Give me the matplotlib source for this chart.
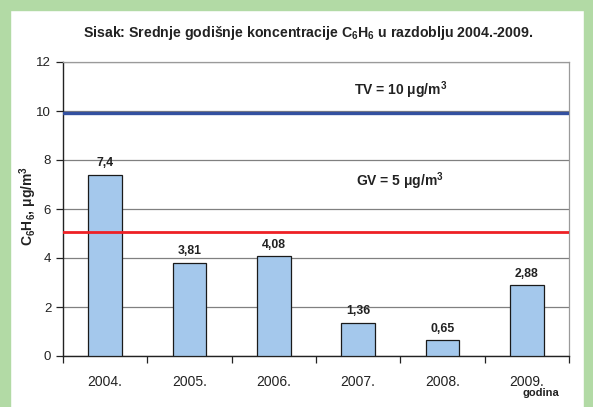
import matplotlib
matplotlib.use("Agg")
import matplotlib.pyplot as plt
from matplotlib.patches import Rectangle

plt.rcParams['font.family'] = ['Liberation Sans', 'DejaVu Sans']
plt.rcParams['mathtext.fontset'] = 'custom'
plt.rcParams['mathtext.rm'] = 'Liberation Sans'
plt.rcParams['mathtext.bf'] = 'Liberation Sans:bold'
plt.rcParams['mathtext.it'] = 'Liberation Sans:italic'

years = ["2004.", "2005.", "2006.", "2007.", "2008.", "2009."]
values = [7.4, 3.81, 4.08, 1.36, 0.65, 2.88]
value_labels = ["7,4", "3,81", "4,08", "1,36", "0,65", "2,88"]
tv_value = 9.93
gv_value = 5.05

fig = plt.figure(figsize=(5.93, 4.07), dpi=100)
fig.patch.set_facecolor('white')
green = '#b2daa5'
fig.patches.append(Rectangle((0, 0), 10/593, 1, transform=fig.transFigure, color=green, zorder=0))
fig.patches.append(Rectangle((0, 1-10/407), 1, 10/407, transform=fig.transFigure, color=green, zorder=0))
fig.patches.append(Rectangle((1-9/593, 0), 9/593, 1, transform=fig.transFigure, color=green, zorder=0))

ax = fig.add_axes([63/593, 51/407, 506/593, 294/407])
x = range(len(years))
ax.bar(x, values, width=0.4, color='#a4c8ec', edgecolor='#1a1a1a', linewidth=0.9, zorder=3)
ax.set_xlim(-0.5, len(years) - 0.5)
ax.set_ylim(0, 12)
ax.set_yticks(range(0, 13, 2))
ax.yaxis.grid(True, color='#808080', linewidth=0.9, zorder=0)
ax.set_axisbelow(True)

ax.axhline(tv_value, color='#3350a0', linewidth=2.4, zorder=4)
ax.axhline(gv_value, color='#ee2025', linewidth=2.0, zorder=4)

for xi, v, lab in zip(x, values, value_labels):
    ax.text(xi, v + 0.22, lab, ha='center', va='bottom', fontsize=8.8, fontweight='bold', color='#222222')

ax.text(3.5, 10.86, r'TV = 10 $\mathbf{\mu}$g/m$^\mathbf{3}$', ha='center', va='center', fontsize=10, fontweight='bold', color='#222222')
ax.text(3.5, 7.14, r'GV = 5 $\mathbf{\mu}$g/m$^\mathbf{3}$', ha='center', va='center', fontsize=10, fontweight='bold', color='#222222')

ax.set_xticks(x)
ax.set_xticklabels(years, fontsize=10, color='#222222')
ax.set_xticks([i + 0.5 for i in range(-1, len(years))], minor=True)
ax.tick_params(axis='x', which='major', length=0, pad=14)
ax.tick_params(axis='x', which='minor', length=5, width=0.9, color='#222222')
ax.tick_params(axis='y', length=5, width=0.9, color='#222222', labelsize=9.5, labelcolor='#222222')

for s in ['left', 'bottom']:
    ax.spines[s].set_color('#222222')
    ax.spines[s].set_linewidth(1.0)
for s in ['right', 'top']:
    ax.spines[s].set_color('#9a9a9a')
    ax.spines[s].set_linewidth(0.9)

ax.set_ylabel(r'C$_\mathbf{6}$H$_\mathbf{6}$, $\mathbf{\mu}$g/m$^\mathbf{3}$', fontsize=10, fontweight='bold', color='#222222')
ax.yaxis.set_label_coords(-24/506, 0.51)

fig.text(308/593, 1 - 33/407, r'Sisak: Srednje godišnje koncentracije C$_\mathbf{6}$H$_\mathbf{6}$ u razdoblju 2004.-2009.',
         ha='center', va='center', fontsize=10.2, fontweight='bold', color='#222222')
fig.text(541/593, 1 - 393/407, 'godina', ha='center', va='center', fontsize=8, fontweight='bold', color='#222222')

fig.savefig('out.png', dpi=100)
